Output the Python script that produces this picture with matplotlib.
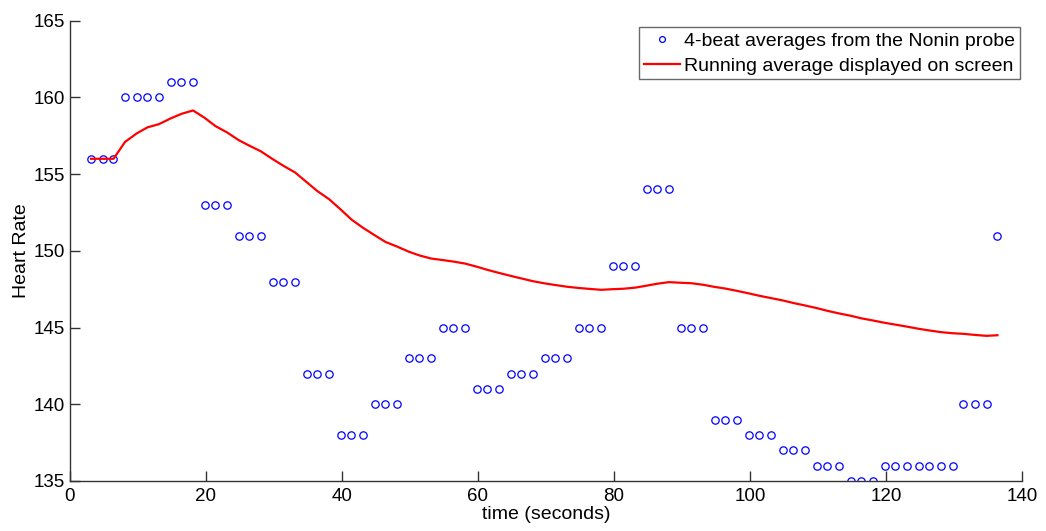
import matplotlib
matplotlib.use("Agg")
import matplotlib.pyplot as plt

plt.rcParams['font.family'] = ['Liberation Sans', 'DejaVu Sans']

# sample times (s) for each 4-beat average
times = [3.1, 4.8, 6.4, 8.1, 9.8, 11.4, 13.1, 14.8, 16.4,
         18.1, 19.8, 21.4, 23.1, 24.8, 26.4, 28.1, 29.8, 31.4,
         33.1, 34.8, 36.4, 38.1, 39.8, 41.4, 43.1, 44.8, 46.4,
         48.1, 49.8, 51.4, 53.1, 54.8, 56.4, 58.1, 59.8, 61.4,
         63.1, 64.8, 66.4, 68.1, 69.8, 71.4, 73.1, 74.8, 76.4,
         78.1, 79.8, 81.4, 83.1, 84.8, 86.4, 88.1, 89.8, 91.4,
         93.1, 94.8, 96.4, 98.1, 99.8, 101.4, 103.1, 104.8, 106.4,
         108.1, 109.8, 111.4, 113.1, 114.8, 116.4, 118.1, 119.8, 121.4,
         123.1, 124.8, 126.4, 128.1, 129.8, 131.4, 133.1, 134.8, 136.4]

# 4-beat averages reported by the probe
beat_avg = [156, 156, 156, 160, 160, 160, 160, 161, 161,
            161, 153, 153, 153, 151, 151, 151, 148, 148,
            148, 142, 142, 142, 138, 138, 138, 140, 140,
            140, 143, 143, 143, 145, 145, 145, 141, 141,
            141, 142, 142, 142, 143, 143, 143, 145, 145,
            145, 149, 149, 149, 154, 154, 154, 145, 145,
            145, 139, 139, 139, 138, 138, 138, 137, 137,
            137, 136, 136, 136, 135, 135, 135, 136, 136,
            136, 136, 136, 136, 136, 140, 140, 140, 151]

# running average shown on the monitor
running_avg = [156.0, 156.0, 156.0, 157.1, 157.65, 158.05, 158.26, 158.63, 158.93,
               159.15, 158.67, 158.13, 157.72, 157.22, 156.85, 156.48, 155.98, 155.54,
               155.11, 154.48, 153.89, 153.37, 152.70, 152.04, 151.50, 151.02, 150.58,
               150.28, 149.95, 149.70, 149.50, 149.40, 149.30, 149.17, 148.97, 148.76,
               148.56, 148.37, 148.20, 148.02, 147.88, 147.77, 147.66, 147.58, 147.52,
               147.46, 147.50, 147.53, 147.60, 147.73, 147.86, 147.96, 147.92, 147.89,
               147.79, 147.65, 147.54, 147.39, 147.23, 147.07, 146.92, 146.77, 146.60,
               146.44, 146.27, 146.09, 145.92, 145.77, 145.60, 145.46, 145.31, 145.19,
               145.06, 144.92, 144.81, 144.70, 144.63, 144.59, 144.52, 144.46, 144.50]

fig = plt.figure(figsize=(10.46, 5.31), dpi=100)
ax = fig.add_axes([0.0669, 0.0942, 0.9101, 0.8668])

ax.plot(times, beat_avg, 'o', linestyle='none', markersize=5.3,
        markerfacecolor='none', markeredgecolor='#0000ff', markeredgewidth=0.9,
        label='4-beat averages from the Nonin probe')
ax.plot(times, running_avg, '-', color='#ff0000', linewidth=1.6,
        label='Running average displayed on screen')

ax.set_xlim(0, 140)
ax.set_ylim(135, 165)
ax.set_xticks(range(0, 141, 20))
ax.set_yticks(range(135, 166, 5))

for side in ('top', 'right'):
    ax.spines[side].set_visible(False)
for side in ('left', 'bottom'):
    ax.spines[side].set_color('#333333')
    ax.spines[side].set_linewidth(1.0)
ax.tick_params(direction='in', length=7, width=1.0, color='#333333',
               labelsize=13.5)
ax.tick_params(axis='x', pad=5)

ax.set_xlabel('time (seconds)', fontsize=14, labelpad=1)
ax.set_ylabel('Heart Rate', fontsize=14, labelpad=3)

leg = ax.legend(loc='upper right', bbox_to_anchor=(0.9979, 0.986), fontsize=14,
                frameon=True, fancybox=False, borderpad=0.25, labelspacing=0.38,
                handlelength=1.85, handletextpad=0.2, borderaxespad=0.0)
leg.get_frame().set_edgecolor('#444444')
leg.get_frame().set_linewidth(1.0)
leg.legend_handles[0].set_markersize(4.2)

fig.savefig('out.png', dpi=100)
